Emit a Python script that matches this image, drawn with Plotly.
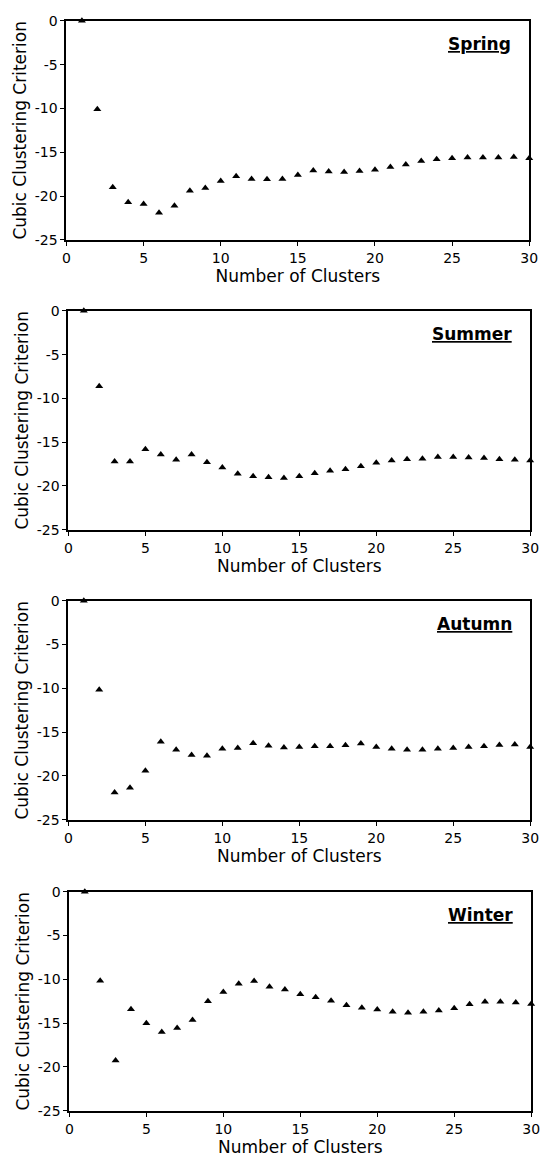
import plotly.graph_objects as go

clusters = list(range(1, 31))

spring = [0, -10.1, -19.0, -20.7, -20.9, -21.9, -21.1, -19.4, -19.1, -18.3,
          -17.75, -18.05, -18.1, -18.05, -17.6, -17.1, -17.2, -17.25, -17.15, -17.0,
          -16.7, -16.4, -16.0, -15.8, -15.7, -15.6, -15.6, -15.6, -15.55, -15.7]
summer = [0, -8.6, -17.2, -17.2, -15.8, -16.4, -17.0, -16.4, -17.3, -17.9,
          -18.6, -18.9, -19.0, -19.1, -18.9, -18.55, -18.25, -18.1, -17.75, -17.35,
          -17.1, -16.95, -16.9, -16.7, -16.7, -16.75, -16.8, -16.95, -17.0, -17.1]
autumn = [0, -10.15, -21.9, -21.35, -19.4, -16.1, -17.0, -17.6, -17.7, -16.9,
          -16.8, -16.25, -16.55, -16.75, -16.7, -16.6, -16.6, -16.5, -16.3, -16.7,
          -16.9, -17.0, -17.0, -16.9, -16.8, -16.7, -16.6, -16.45, -16.4, -16.7]
winter = [0, -10.15, -19.25, -13.4, -15.0, -16.0, -15.55, -14.65, -12.5, -11.45,
          -10.5, -10.2, -10.85, -11.15, -11.7, -12.05, -12.45, -12.95, -13.25, -13.45,
          -13.7, -13.8, -13.7, -13.55, -13.3, -12.85, -12.55, -12.55, -12.65, -12.8]

seasons = ["Spring", "Summer", "Autumn", "Winter"]
series = [spring, summer, autumn, winter]

x_ticks = [0, 5, 10, 15, 20, 25, 30]
y_ticks = [0, -5, -10, -15, -20, -25]
y_ticklabels = ["0", "-5", "-10", "-15", "-20", "-25"]

W, H = 547, 1173
# panel pixel boxes (top, bottom, left, right)
boxes = [(13, 235, 64, 538), (307, 529, 66, 539), (601, 823, 66, 539), (896, 1118, 67, 540)]

FONT = "DejaVu Sans"
fig = go.Figure()
layout = {}
for i, (name, vals) in enumerate(zip(seasons, series)):
    n = "" if i == 0 else str(i + 1)
    fig.add_trace(go.Scatter(
        x=clusters, y=vals, mode="markers",
        marker=dict(symbol="triangle-up", size=7, color="black"),
        xaxis="x" + n, yaxis="y" + n, showlegend=False, cliponaxis=False))
    top, bot, left, right = boxes[i]
    layout["xaxis" + n] = dict(
        domain=[left / W, right / W], anchor="y" + n, range=[0, 30],
        tickvals=x_ticks, ticks="outside", ticklen=4, tickcolor="black",
        showline=True, linecolor="black", linewidth=2, mirror=True,
        showgrid=False, zeroline=False,
        tickfont=dict(family=FONT, size=14, color="black"),
        title=dict(text="Number of Clusters", standoff=3,
                   font=dict(family=FONT, size=17, color="black")))
    layout["yaxis" + n] = dict(
        domain=[1 - bot / H, 1 - top / H], anchor="x" + n, range=[-25, 0],
        tickvals=y_ticks, ticktext=y_ticklabels, ticks="outside", ticklen=4,
        tickcolor="black",
        showline=True, linecolor="black", linewidth=2, mirror=True,
        showgrid=False, zeroline=False,
        tickfont=dict(family=FONT, size=14, color="black"),
        title=dict(text="Cubic Clustering Criterion", standoff=4,
                   font=dict(family=FONT, size=17, color="black")))
    fig.add_annotation(
        x=0.966, y=0.95, xref=("x" + n + " domain"), yref=("y" + n + " domain"),
        xanchor="right", yanchor="top", showarrow=False,
        text="<b><u>" + name + "</u></b>",
        font=dict(family=FONT, size=17, color="black"))

fig.update_layout(
    width=W, height=H, margin=dict(l=0, r=0, t=0, b=0),
    paper_bgcolor="white", plot_bgcolor="white", **layout)

fig.write_html("out.html")
